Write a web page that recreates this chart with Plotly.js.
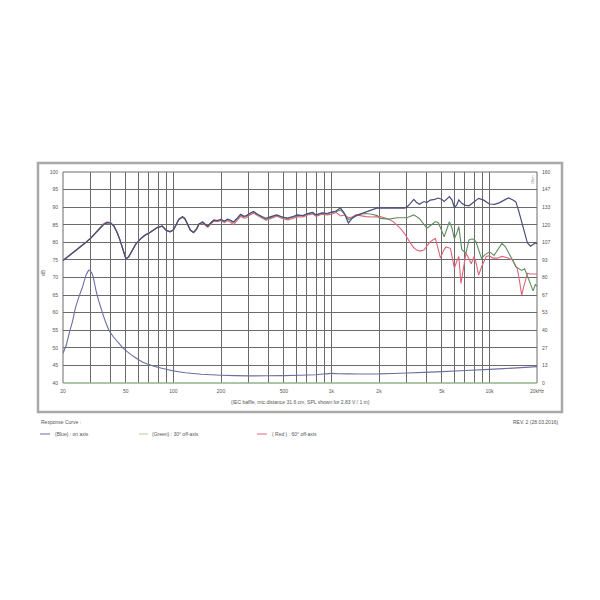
<!DOCTYPE html>
<html>
<head>
<meta charset="utf-8">
<script src="https://cdn.plot.ly/plotly-3.0.1.min.js"></script>
<style>html,body{margin:0;padding:0;background:#fff;}#chart{width:600px;height:600px;}</style>
</head>
<body>
<div id="chart"></div>
<script>
// Frequency grid / tick labels
const gridFreqs = [20,30,40,50,60,70,80,90,100,200,300,400,500,600,700,800,900,1000,2000,3000,4000,5000,6000,7000,8000,9000,10000,20000];
const gridLabels = ['20','','','50','','','','','100','200','','','500','','','','','1k','2k','','','5k','','','','','10k','20kHz'];
const ohmTickVals = [0,13.33,26.67,40,53.33,66.67,80,93.33,106.67,120,133.33,146.67,160];
const ohmTickText = ['0','13','27','40','53','67','80','93','107','120','133','147','160'];

// Blue: on axis
const blueFreq = [20,22,25,28,30,33,36,38,40,42,44,46,48,50,52,55,58,62,66,70,75,79,85,90,95,100,104,108,114,118,122,128,134,140,145,153,160,165,172,180,190,200,210,220,230,240,255,266,280,290,305,322,340,360,385,414,450,490,528,570,610,660,707,760,800,870,940,1000,1070,1140,1210,1280,1350,1430,1520,1650,1800,1950,2100,2300,2500,2730,2900,3000,3150,3320,3450,3600,3850,4020,4220,4500,4760,5000,5170,5400,5580,5800,6000,6200,6400,6680,7000,7420,7900,8540,9200,10000,10800,11600,12400,13200,14000,14700,15300,15900,16600,17400,18200,18900,19500,20000];
const blueSPL = [74.8,76.2,78.2,80,81.2,83.2,85,85.6,85.5,84.6,82.8,80.5,77.8,75.3,75.8,77.8,79.6,81,82,82.6,83.5,84.2,84.6,83.4,83,83.5,85,86.5,87.3,86.8,85.5,83.5,82.8,83.8,85.2,85.8,85,84.6,85.5,86.3,86.2,86.5,86,86.6,86.3,85.8,87,88,87.4,87.6,88.3,88.8,88,87.4,86.8,87.3,87.8,87.2,86.9,87.3,87.8,87.6,88.2,88.5,87.8,88.4,88.2,88.6,88.9,89.8,88.2,85.5,86.8,87.6,88,88.6,89.3,89.8,89.7,89.8,89.7,89.8,89.7,90,91,92.2,91.4,90.8,91.6,91.3,92,92.2,92.6,92.2,91.6,92.3,93,92,89.9,90.6,92.1,91.1,90.6,90.4,91.4,92.5,92,90.9,90.8,91.3,92,92.6,92.1,91.5,89,86.3,83,79.8,78.9,79.3,79.8,79.6];

// Green: 30 deg off axis
const greenFreq = [20,22,25,28,30,33,36,38,40,42,44,46,48,50,52,55,58,62,66,70,75,79,85,90,95,100,104,108,114,118,122,128,134,140,145,153,160,165,172,180,190,200,210,220,230,240,255,266,280,290,305,322,340,360,385,414,450,490,528,570,610,660,707,760,800,870,940,1000,1070,1140,1210,1280,1350,1430,1520,1650,1800,1950,2036,2300,2620,3000,3320,3600,3800,4020,4300,4550,4760,5000,5170,5400,5580,5800,6000,6200,6400,6680,7100,7420,7800,8200,8900,9400,10000,10700,11300,12000,12600,13200,14000,14700,15300,16000,16700,17400,18200,18900,19500,20000];
const greenSPL = [74.8,76.2,78.2,80,81.2,83.2,85,85.6,85.5,84.6,82.8,80.5,77.8,75.3,75.8,77.8,79.6,81,82,82.6,83.5,84.2,84.6,83.4,83,83.5,85,86.5,87.3,86.8,85.5,83.5,82.8,83.8,85.2,85.8,85,84.6,85.5,86.3,86.2,86.4,86,86.5,86.2,85.6,86.8,87.8,87.3,87.5,88.2,88.6,87.9,87.3,86.5,87.1,87.7,87.1,86.8,87.2,87.7,87.5,88.1,88.4,87.7,88.3,88.1,88.5,88.7,89.2,88,86.5,87,87.6,88,88.2,88,87.6,86.8,86.6,87,87,87.8,86.8,85.5,84,85,85.9,85.5,83,81.6,84,85.9,84,81,82.5,84.5,78,76.9,80.7,81,80.3,75.5,76.5,77.3,76.3,78,79.7,78.8,77.3,75,73,72.5,72,72.5,70.3,68,66.2,68,67.5];

// Red: 60 deg off axis
const redFreq = [20,22,25,28,30,33,36,38,40,42,44,46,48,50,52,55,58,62,66,70,75,79,85,90,95,100,104,108,114,118,122,128,134,140,145,153,160,165,172,180,190,200,210,220,230,240,255,266,280,290,305,322,340,360,385,414,450,490,528,570,610,660,707,760,800,870,940,1000,1070,1140,1210,1280,1350,1430,1520,1650,1800,1950,2036,2250,2460,2730,2900,3120,3300,3460,3650,3850,4020,4220,4550,4750,4900,5100,5300,5660,5850,6000,6200,6400,6600,6800,7100,7400,7670,8000,8300,8540,9000,9550,10000,10500,11200,12000,13000,14000,15000,15500,16000,16500,17400,18200,18900,19500,20000];
const redSPL = [74.9,76.3,78.3,80.1,81.3,83.3,85.2,85.8,85.6,84.7,82.9,80.6,77.9,75.4,75.9,77.9,79.7,81.1,82.1,82.7,83.6,84.3,84.7,83.5,83.1,83.6,85,86.4,87.1,86.6,85.3,83.4,82.7,83.6,85,85.5,84.8,84.3,85.2,86,85.9,86.2,85.6,86.2,85.7,85,86.4,87.4,86.9,87,87.8,88.3,87.6,87,86.3,86.8,87.4,86.8,86.4,86.8,87.3,87.2,87.8,88.1,87.4,88,87.8,88,88.5,87.5,87.8,87,87.2,87.8,87.5,87.3,87.2,87.2,87.3,86.8,85.9,84,82.5,80.2,78.6,77.8,77.5,77.8,79,80.2,81.1,78,75.5,77.5,78.7,78.3,75,72.6,74.5,76,68.3,72,76.9,75.5,73.9,76,73.5,70.7,73.5,76,76.2,75.5,75.5,76,75.6,75,72.6,69,65,67.5,71.2,71,71,71.2,71];

// Impedance (on axis), Ohm
const impFreq = [20,21,21.9,23,23.8,25,26.6,28,29.2,30,30.8,31.5,32.3,33.5,35.6,37,39.1,42,45.3,48.5,52.6,57,63.5,70,77,87,98,119,150,200,300,500,800,1000,1100,1500,2000,3000,5000,10000,15000,20000];
const impOhm = [22.5,29,37.9,47,55.4,64,73,82,85.7,84.5,82,77,70.5,63,53,47,40,34.5,30,26,22.5,19.5,16,14,12.4,10.8,9.4,7.8,6.6,5.9,5.4,5.6,6.3,7.3,7.0,6.8,6.9,7.6,8.6,10.3,11.5,12.4];

const blueCol = '#4c4c7e';
const greenCol = '#5f8f5f';
const redCol = '#e0647a';
const impCol = '#6e6ea0';
const gridCol = '#6a6a6a';
const txtCol = '#555';
const fnt = 'Liberation Sans, Arial, sans-serif';

const traces = [
  {x: redFreq, y: redSPL, type: 'scatter', mode: 'lines', line: {color: redCol, width: 1.1}, name: '( Red ) : 60° off-axis', hoverinfo: 'skip'},
  {x: greenFreq, y: greenSPL, type: 'scatter', mode: 'lines', line: {color: greenCol, width: 1.1}, name: '(Green) : 30° off-axis', hoverinfo: 'skip'},
  {x: blueFreq, y: blueSPL, type: 'scatter', mode: 'lines', line: {color: blueCol, width: 1.2}, name: '(Blue) : on axis', hoverinfo: 'skip'},
  {x: impFreq, y: impOhm, type: 'scatter', mode: 'lines', line: {color: impCol, width: 1.1, shape: 'spline', smoothing: 0.3}, yaxis: 'y2', name: 'Impedance', hoverinfo: 'skip'}
];

// paper-coordinate helpers derived from pixel layout (plot area 63..537 x 172..383)
const L = 63, R = 537, T = 172, B = 383;
const px = v => (v - L) / (R - L);
const py = v => (B - v) / (B - T);

const layout = {
  width: 600, height: 600,
  margin: {l: L, r: 600 - R, t: T, b: 600 - B, pad: 0},
  paper_bgcolor: '#ffffff', plot_bgcolor: '#ffffff',
  showlegend: false,
  font: {family: fnt, size: 5, color: txtCol},
  xaxis: {
    type: 'log', range: [Math.log10(20), Math.log10(20000)],
    tickmode: 'array', tickvals: gridFreqs, ticktext: gridLabels,
    showgrid: true, gridcolor: gridCol, gridwidth: 1,
    showline: false, zeroline: false, ticks: '',
    tickfont: {size: 5, color: txtCol, family: fnt}, ticklabelstandoff: 4
  },
  yaxis: {
    range: [40, 100], tick0: 40, dtick: 5,
    showgrid: true, gridcolor: gridCol, gridwidth: 1,
    showline: false, zeroline: false, ticks: '',
    tickfont: {size: 5, color: txtCol, family: fnt}, ticklabelstandoff: 4
  },
  yaxis2: {
    overlaying: 'y', side: 'right', range: [0, 160],
    tickmode: 'array', tickvals: ohmTickVals, ticktext: ohmTickText,
    showgrid: false, zeroline: false, showline: false, ticks: '',
    tickfont: {size: 5, color: txtCol, family: fnt}, ticklabelstandoff: 4
  },
  shapes: [
    {type: 'rect', xref: 'paper', yref: 'paper', x0: 0, x1: 1, y0: 0, y1: 1, line: {color: gridCol, width: 1}, layer: 'below'},
    {type: 'line', xref: 'paper', yref: 'paper', x0: 0, x1: 1, y0: 0, y1: 0, line: {color: '#a8d49c', width: 1.2}},
    {type: 'rect', xref: 'paper', yref: 'paper', x0: px(38), x1: px(562), y0: py(412), y1: py(163), line: {color: '#a9a9a9', width: 2.5}},
    {type: 'line', xref: 'paper', yref: 'paper', x0: px(40), x1: px(50), y0: py(434), y1: py(434), line: {color: impCol, width: 1}},
    {type: 'line', xref: 'paper', yref: 'paper', x0: px(139), x1: px(148), y0: py(434), y1: py(434), line: {color: '#a8d49c', width: 1}},
    {type: 'line', xref: 'paper', yref: 'paper', x0: px(257), x1: px(267), y0: py(434), y1: py(434), line: {color: redCol, width: 1}}
  ],
  annotations: [
    {text: '(IEC baffle, mic.distance 31.6 cm, SPL shown for 2.83 V / 1 m)', xref: 'paper', yref: 'paper', x: 0.5, y: py(402), showarrow: false, xanchor: 'center', yanchor: 'middle', font: {size: 5, color: txtCol, family: fnt}},
    {text: 'dB', xref: 'paper', yref: 'paper', x: px(43), y: py(273), showarrow: false, textangle: -90, xanchor: 'center', yanchor: 'middle', font: {size: 5, color: txtCol, family: fnt}},
    {text: 'Ohm', xref: 'paper', yref: 'paper', x: px(532), y: py(180), showarrow: false, textangle: -90, xanchor: 'center', yanchor: 'middle', font: {size: 4, color: '#888', family: fnt}},
    {text: 'Response Curve :', xref: 'paper', yref: 'paper', x: px(39), y: py(422), showarrow: false, xanchor: 'left', yanchor: 'middle', font: {size: 5, color: txtCol, family: fnt}},
    {text: '(Blue) : on axis', xref: 'paper', yref: 'paper', x: px(53), y: py(434), showarrow: false, xanchor: 'left', yanchor: 'middle', font: {size: 5, color: txtCol, family: fnt}},
    {text: '(Green) : 30° off-axis', xref: 'paper', yref: 'paper', x: px(150), y: py(434), showarrow: false, xanchor: 'left', yanchor: 'middle', font: {size: 5, color: txtCol, family: fnt}},
    {text: '( Red ) : 60° off-axis', xref: 'paper', yref: 'paper', x: px(270), y: py(434), showarrow: false, xanchor: 'left', yanchor: 'middle', font: {size: 5, color: txtCol, family: fnt}},
    {text: 'REV. 2 (28.03.2016)', xref: 'paper', yref: 'paper', x: px(560), y: py(422), showarrow: false, xanchor: 'right', yanchor: 'middle', font: {size: 5, color: txtCol, family: fnt}}
  ]
};

Plotly.newPlot('chart', traces, layout, {staticPlot: true, displayModeBar: false});
</script>
</body>
</html>
